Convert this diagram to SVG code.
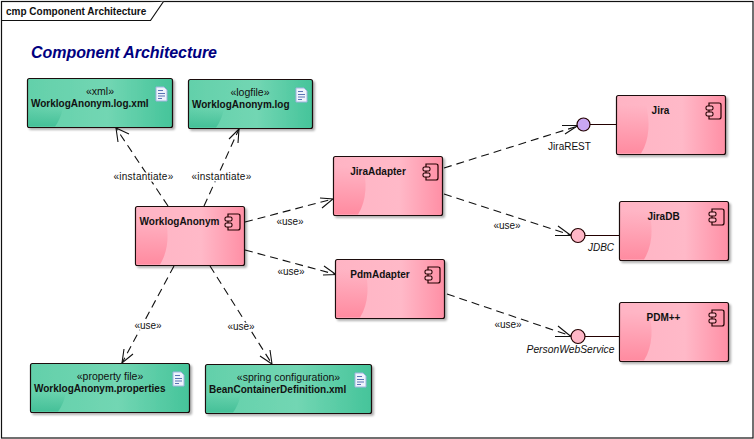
<svg xmlns="http://www.w3.org/2000/svg" width="754" height="439" viewBox="0 0 754 439">
<style>
text{font-family:"Liberation Sans",Arial,sans-serif;fill:#111}
.n{font-size:10px;font-weight:bold}
.s{font-size:10.500px}
.l{font-size:10px}
.labels text{stroke:#fff;stroke-width:3px;paint-order:stroke}
.w{letter-spacing:.25px}
.i{font-size:10px;font-style:italic}
.box{stroke:#1a0a0a;stroke-width:1.200;filter:url(#sh)}
.p{fill:url(#pink)}
.g{fill:url(#green)}
.swp{fill:url(#fadep)}
.swg{fill:url(#fadeg)}
.ic{fill:none;stroke:#200;stroke-width:1.200}
.icf{fill:#ffb6c6;stroke:#200;stroke-width:1.100}
.c{fill:none;stroke:#111;stroke-width:1.100;stroke-dasharray:8 5}
.a{fill:none;stroke:#111;stroke-width:1.100}
.lol{stroke:#200;stroke-width:1.200}
.doc{fill:#eef3fc;stroke:#9fb4df;stroke-width:1}
.dl{stroke:#5a74b4;stroke-width:1}
</style>
<defs>
<linearGradient id="pink" x1="0" x2="1" y1="0" y2="0"><stop offset="0" stop-color="#ffb4c4"/><stop offset=".6" stop-color="#ffb9c8"/><stop offset="1" stop-color="#ff8fa5"/></linearGradient>
<linearGradient id="green" x1="0" x2="1" y1="0" y2="0"><stop offset="0" stop-color="#63d0aa"/><stop offset=".55" stop-color="#72d6b3"/><stop offset="1" stop-color="#45c49a"/></linearGradient>
<linearGradient id="fadep" x1="0" x2="0" y1="0" y2="1"><stop offset="0" stop-color="#ff8ba0" stop-opacity="0"/><stop offset="1" stop-color="#ff8ba0"/></linearGradient>
<linearGradient id="fadeg" x1="0" x2="0" y1="0" y2="1"><stop offset="0" stop-color="#45c098" stop-opacity="0"/><stop offset="1" stop-color="#45c098"/></linearGradient>
<filter id="sh" x="-5%" y="-5%" width="112%" height="115%"><feDropShadow dx="2" dy="2" stdDeviation="1.200" flood-color="#000" flood-opacity=".3"/></filter>
<g id="comp"><path class="ic" d="M-12,0H-2Q0,0 0,2V14Q0,16 -2,16H-12Z"/><rect class="icf" x="-15" y="3" width="7" height="4" rx="1.500"/><rect class="icf" x="-15" y="9" width="7" height="4" rx="1.500"/></g>
<g id="doc"><path class="doc" d="M0,0H8L11,3V14H0Z"/><path class="dl" d="M2,3.500H7M2,6.500H9M2,9H9M2,11.500H6"/></g>
<path id="swpink" class="swp" d="M1,58.500V10H30C34,26 34,44 25,58.500Z"/>
<path id="swgreen" class="swg" d="M1,48.500V30H36C34,38 32,43 28,48.500Z"/>
</defs>
<rect x="1.500" y="1.500" width="751.500" height="436.500" fill="#fff" stroke="#111" stroke-width="1.200"/>
<path d="M1.500,20.500H150.500L163.500,1.500" fill="#fff" stroke="#111" stroke-width="1.200"/>
<text x="6" y="15" style="font-size:10px;font-weight:bold">cmp Component Architecture</text>
<text x="31" y="58" style="font-size:16px;font-weight:bold;font-style:italic;fill:#000080" textLength="186" lengthAdjust="spacing">Component Architecture</text>

<g id="connectors">
<path class="c" d="M168,206L116,128"/><path class="a" d="M118,142L116,128L129,134"/>
<path class="c" d="M204,206L239,129"/><path class="a" d="M229,139L239,129L238,143"/>
<path class="c" d="M245,222L333,199"/><path class="a" d="M320,198L333,199L322,208"/>
<path class="c" d="M245,250L336,274.500"/><path class="a" d="M323,275L336,274.500L324,266"/>
<path class="c" d="M174,266L122,363"/><path class="a" d="M124,349L122,363L133,354"/>
<path class="c" d="M210,266L272,364"/><path class="a" d="M260,356L272,364L270,350"/>
<path class="c" d="M444,168L578,126"/><path class="a" d="M562,125.500H578L565,134"/>
<path class="c" d="M444,194L571,235"/><path class="a" d="M555,235.500H571L558,226"/>
<path class="c" d="M447,294L571,336"/><path class="a" d="M555,336.500H571L558,326"/>
<path class="lol" d="M590,124.500H616M585,235.500H619M585,336.500H619"/>
</g>
<g class="labels">
<text class="l w" x="143.500" y="180" text-anchor="middle">«instantiate»</text>
<text class="l w" x="221.500" y="180" text-anchor="middle">«instantiate»</text>
<text class="l" x="290" y="225" text-anchor="middle">«use»</text>
<text class="l" x="291" y="275" text-anchor="middle">«use»</text>
<text class="l" x="148" y="329" text-anchor="middle">«use»</text>
<text class="l" x="241" y="330" text-anchor="middle">«use»</text>
<text class="l" x="507" y="229" text-anchor="middle">«use»</text>
<text class="l" x="508" y="328" text-anchor="middle">«use»</text>
</g>

<g id="xml"><rect class="box g" x="27.500" y="78.500" width="145" height="49" rx="2"/><use href="#swgreen" x="27" y="78"/><text class="s" x="100" y="95" text-anchor="middle">«xml»</text><text class="n" x="31" y="107">WorklogAnonym.log.xml</text><use href="#doc" x="156" y="87"/></g>
<g id="logfile"><rect class="box g" x="188.500" y="79.500" width="124" height="49" rx="2"/><use href="#swgreen" x="188" y="79"/><text class="s" x="250" y="96" text-anchor="middle">«logfile»</text><text class="n" x="192" y="108">WorklogAnonym.log</text><use href="#doc" x="296" y="88"/></g>
<g id="properties"><rect class="box g" x="30.500" y="363.500" width="159" height="49" rx="2"/><use href="#swgreen" x="30" y="363"/><text class="s" x="110" y="380" text-anchor="middle">«property file»</text><text class="n" x="34" y="392">WorklogAnonym.properties</text><use href="#doc" x="173" y="372"/></g>
<g id="bean"><rect class="box g" x="205.500" y="364.500" width="166" height="49" rx="2"/><use href="#swgreen" x="205" y="364"/><text class="s" x="288.500" y="381" text-anchor="middle">«spring configuration»</text><text class="n" x="209" y="393">BeanContainerDefinition.xml</text><use href="#doc" x="355" y="373"/></g>

<g id="worklog"><rect class="box p" x="135.500" y="206.500" width="109" height="59" rx="2"/><use href="#swpink" x="135" y="206"/><text class="n" x="179.500" y="225" text-anchor="middle">WorklogAnonym</text><use href="#comp" x="240" y="214"/></g>
<g id="jiraadapter"><rect class="box p" x="333.500" y="156.500" width="109" height="59" rx="2"/><use href="#swpink" x="333" y="156"/><text class="n" x="378" y="175" text-anchor="middle">JiraAdapter</text><use href="#comp" x="438" y="164"/></g>
<g id="pdmadapter"><rect class="box p" x="335.500" y="259.500" width="109" height="59" rx="2"/><use href="#swpink" x="335" y="259"/><text class="n" x="380" y="278" text-anchor="middle">PdmAdapter</text><use href="#comp" x="440" y="267"/></g>
<g id="jira"><rect class="box p" x="616.500" y="95.500" width="109" height="59" rx="2"/><use href="#swpink" x="616" y="95"/><text class="n" x="660.500" y="114" text-anchor="middle">Jira</text><use href="#comp" x="721" y="103"/></g>
<g id="jiradb"><rect class="box p" x="619.500" y="201.500" width="109" height="59" rx="2"/><use href="#swpink" x="619" y="201"/><text class="n" x="663.500" y="220" text-anchor="middle">JiraDB</text><use href="#comp" x="724" y="209"/></g>
<g id="pdm"><rect class="box p" x="619.500" y="302.500" width="109" height="59" rx="2"/><use href="#swpink" x="619" y="302"/><text class="n" x="663.500" y="321" text-anchor="middle">PDM++</text><use href="#comp" x="724" y="310"/></g>

<g id="jirarest"><circle class="lol" cx="583.500" cy="124.500" r="6.500" fill="#c9a6f2"/><text class="l" x="569.500" y="150" text-anchor="middle">JiraREST</text></g>
<g id="jdbc"><circle class="lol" cx="578" cy="235.500" r="7" fill="#ffb6c6"/><text class="i" x="601" y="251" text-anchor="middle">JDBC</text></g>
<g id="personws"><circle class="lol" cx="578" cy="336.500" r="7" fill="#ffb6c6"/><text class="i" x="570.500" y="353" text-anchor="middle" style="font-size:10.300px">PersonWebService</text></g>
</svg>
